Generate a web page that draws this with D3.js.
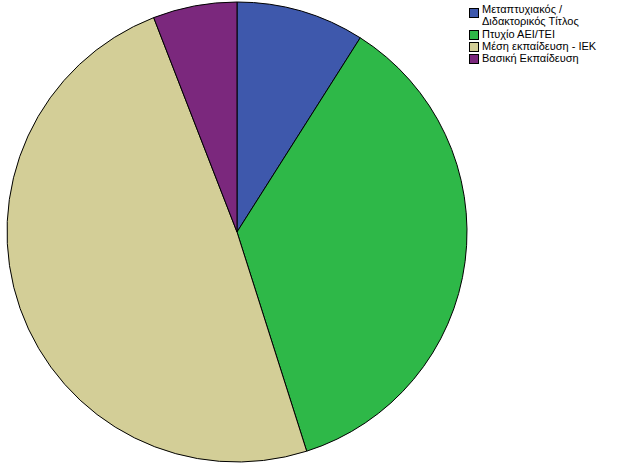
<!DOCTYPE html>
<html><head><meta charset="utf-8">
<script src="https://cdn.jsdelivr.net/npm/d3@7"></script>
<style>html,body{margin:0;padding:0;background:#fff;}svg{display:block;}</style>
</head><body>
<script>
const categories = [["Μεταπτυχιακός /", "Διδακτορικός Τίτλος"], ["Πτυχίο ΑΕΙ/ΤΕΙ"], ["Μέση εκπαίδευση - ΙΕΚ"], ["Βασική Εκπαίδευση"]];
const values = [9.0, 36.1, 49.0, 5.9];
const colors = ["#3e58ac", "#2eb848", "#d3ce97", "#7b287d"];

const W = 626, H = 468;
const svg = d3.select("body").append("svg").attr("width", W).attr("height", H);
const cx = 237, cy = 232, r = 230;
const pie = d3.pie().sort(null).value(d => d)(values);
const arc = d3.arc().innerRadius(0).outerRadius(r);
svg.append("g").attr("transform", `translate(${cx},${cy})`)
  .selectAll("path").data(pie).join("path")
  .attr("d", arc).attr("fill", (d, i) => colors[i])
  .attr("stroke", "#000").attr("stroke-width", 1);

const leg = svg.append("g").attr("font-family", "Liberation Sans, Arial, sans-serif").attr("font-size", 11);
const boxY = [8, 30, 42, 54];
categories.forEach((lines, i) => {
  leg.append("rect").attr("x", 469.5).attr("y", boxY[i] + 0.5).attr("width", 9).attr("height", 9)
    .attr("fill", colors[i]).attr("stroke", "#000").attr("stroke-width", 1);
  lines.forEach((t, j) => {
    leg.append("text").attr("x", 482).attr("y", boxY[i] + 8 + j * 12 - (lines.length > 1 ? 3 : 0) + (lines.length > 1 ? 0 : 0))
      .attr("fill", "#000").text(t);
  });
});
</script>
</body></html>
